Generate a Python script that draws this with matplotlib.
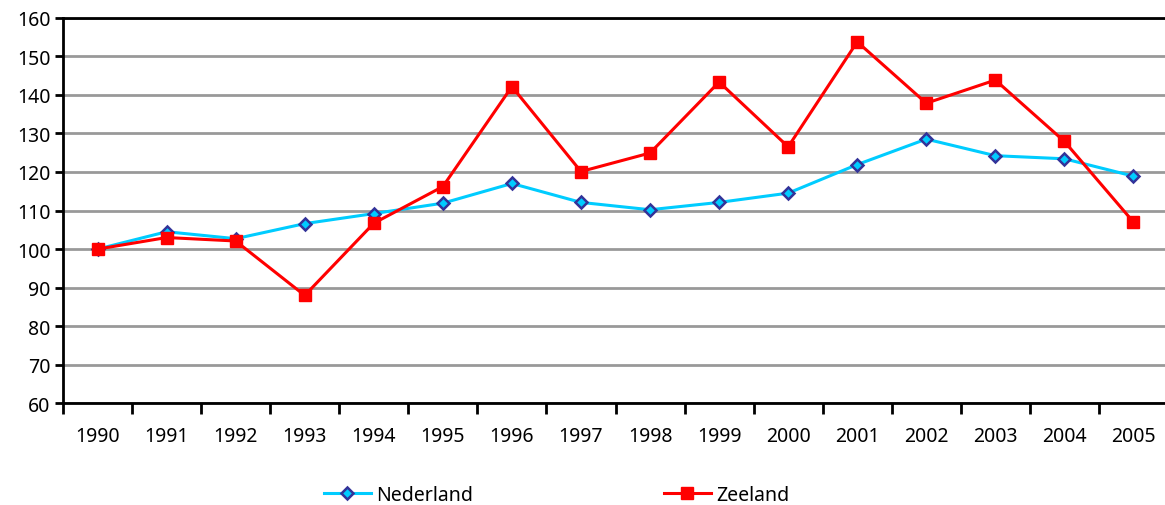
import matplotlib.pyplot as plt
from matplotlib.lines import Line2D

# Data
years = ['1990', '1991', '1992', '1993', '1994', '1995', '1996', '1997',
         '1998', '1999', '2000', '2001', '2002', '2003', '2004', '2005']
nederland = [100, 104.5, 102.7, 106.6, 109.2, 111.9, 117.0, 112.1,
             110.2, 112.1, 114.5, 121.9, 128.5, 124.2, 123.4, 118.9]
zeeland = [100, 103.0, 102.1, 88.0, 106.7, 116.2, 142.1, 120.1,
           124.9, 143.3, 126.5, 153.7, 137.8, 143.8, 127.9, 107.0]

plt.rcParams['font.family'] = ['Noto Sans', 'DejaVu Sans']

fig = plt.figure(figsize=(11.65, 5.06), dpi=100)
ax = fig.add_axes([63 / 1165, 0.2006, 1105 / 1165, 0.7628])

x = list(range(len(years)))
ax.plot(x, nederland, color='#00CCFF', lw=2.2, marker='D', ms=6.5,
        mfc='#00CCFF', mec='#333399', mew=1.8, label='Nederland', zorder=3)
ax.plot(x, zeeland, color='#FF0000', lw=2.2, marker='s', ms=9,
        mfc='#FF0000', mec='#FF0000', label='Zeeland', zorder=4)

ax.set_xlim(-0.5, len(years) - 0.5)
ax.set_ylim(60, 160)
ax.set_yticks(range(60, 161, 10))
ax.yaxis.grid(True, color='#999999', lw=2)
ax.set_axisbelow(True)

# category ticks sit between the years, labels centred on the years
ax.set_xticks([i - 0.5 for i in range(len(years))])
ax.set_xticklabels([])
ax.set_xticks(x, minor=True)
ax.set_xticklabels(years, minor=True)
ax.tick_params(axis='x', which='major', length=8, width=2, direction='out')
ax.tick_params(axis='x', which='minor', length=0, pad=16, labelsize=14)
ax.tick_params(axis='y', length=6, width=2, labelsize=14, pad=3)

for s in ['left', 'bottom', 'top']:
    ax.spines[s].set_linewidth(2)
    ax.spines[s].set_color('black')
ax.spines['right'].set_visible(False)

h1 = Line2D([], [], color='#00CCFF', lw=2.2, marker='D', ms=6.5,
            mfc='#00CCFF', mec='#333399', mew=1.8)
h2 = Line2D([], [], color='#FF0000', lw=2.2, marker='s', ms=9,
            mfc='#FF0000', mec='#FF0000')
leg_kw = dict(frameon=False, borderpad=0, borderaxespad=0, fontsize=14,
              handlelength=2.4, handletextpad=0.3, loc='center left')
fig.legend([h1], ['Nederland'], bbox_to_anchor=(324 / 1165, 1 - 496 / 506), **leg_kw)
fig.legend([h2], ['Zeeland'], bbox_to_anchor=(664 / 1165, 1 - 496 / 506), **leg_kw)

plt.savefig('out.png', dpi=100)
